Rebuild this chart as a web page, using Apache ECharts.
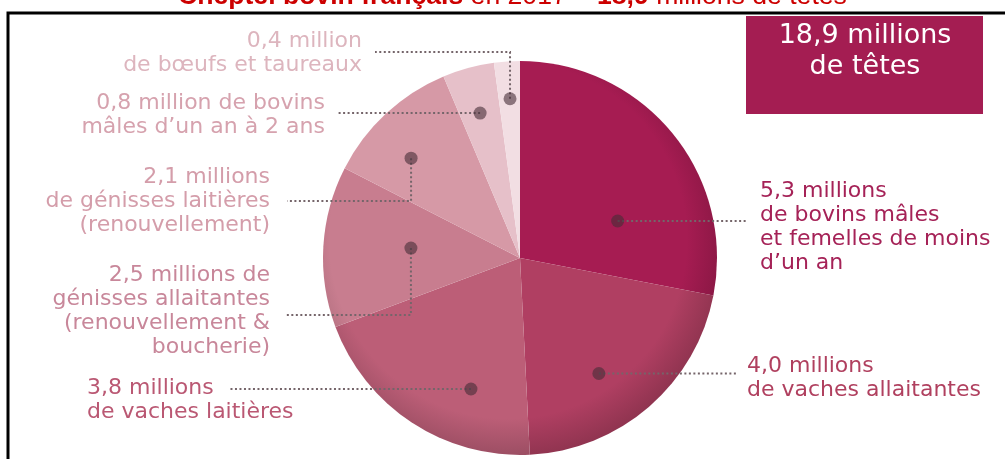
<!DOCTYPE html>
<html>
<head>
<meta charset="utf-8">
<script src="https://cdn.jsdelivr.net/npm/echarts@6/dist/echarts.min.js"></script>
<style>
  html, body { margin: 0; padding: 0; background: #fff; }
  #chart { width: 1005px; height: 459px; }
</style>
</head>
<body>
<div id="chart"></div>
<script>
// Cattle herd in France, 2017 (millions of head)
const categories = [
  'Bovins mâles et femelles de moins d’un an',
  'Vaches allaitantes',
  'Vaches laitières',
  'Génisses allaitantes',
  'Génisses laitières',
  'Bovins mâles d’un an à 2 ans',
  'Bœufs et taureaux'
];
const headsMillions = [5.3, 4.0, 3.8, 2.5, 2.1, 0.8, 0.4];
const labelLines = [
  ['5,3 millions', 'de bovins mâles', 'et femelles de moins', 'd’un an'],
  ['4,0 millions', 'de vaches allaitantes'],
  ['3,8 millions', 'de vaches laitières'],
  ['2,5 millions de', 'génisses allaitantes', '(renouvellement &', 'boucherie)'],
  ['2,1 millions', 'de génisses laitières', '(renouvellement)'],
  ['0,8 million de bovins', 'mâles d’un an à 2 ans'],
  ['0,4 million', 'de bœufs et taureaux']
];
const totalLines = ['18,9 millions', 'de têtes'];
const titleParts = ['Cheptel bovin français', ' en 2017 = ', '18,9', ' millions de têtes'];

// ---- layout & styling ----
const CX = 520, CY = 258, R = 197;
const sliceColors = ['#A61C52', '#B03F62', '#BC5E77', '#C87D8F', '#D699A6', '#E6C0C9', '#F2DEE3'];
const labelColors = ['#A52257', '#B0405F', '#BA5873', '#C8879A', '#D49DAA', '#D6A2AE', '#DDB5BE'];
// Each callout: dot placed at fraction t of the slice sweep and rf of the radius,
// optional vertical elbow, end of the dotted leader and the text anchor.
const callouts = [
  { t: 0.686, rf: 0.53,  endX: 748, textX: 760, textY: 227, align: 'left' },
  { t: 0.587, rf: 0.71,  endX: 736, textX: 747, textY: 378, align: 'left' },
  { t: 0.323, rf: 0.71,  endX: 228, textX: 87,  textY: 400, align: 'left' },
  { t: 0.539, rf: 0.556, elbowY: 315, endX: 285, textX: 270, textY: 311, align: 'right' },
  { t: 0.384, rf: 0.75,  elbowY: 201, endX: 287, textX: 270, textY: 201, align: 'right' },
  { t: 0.49,  rf: 0.763, endX: 337, textX: 325, textY: 115, align: 'right' },
  { t: 0.53,  rf: 0.81,  elbowY: 52, endX: 375, textX: 362, textY: 53, align: 'right' }
];

function shade(hex, k) {
  const n = parseInt(hex.slice(1), 16);
  const r = Math.round(((n >> 16) & 255) * k);
  const g = Math.round(((n >> 8) & 255) * k);
  const b = Math.round((n & 255) * k);
  return 'rgb(' + r + ',' + g + ',' + b + ')';
}

// Dot positions follow the slices, which run clockwise from 12 o'clock.
const total = headsMillions.reduce((a, b) => a + b, 0);
let acc = 0;
const anchors = headsMillions.map((v, i) => {
  const a0 = 90 - acc / total * 360;
  acc += v;
  const a1 = 90 - acc / total * 360;
  const c = callouts[i];
  const ang = (a0 + (a1 - a0) * c.t) * Math.PI / 180;
  return [CX + R * c.rf * Math.cos(ang), CY - R * c.rf * Math.sin(ang)];
});

// Dotted leader from each dot, with an optional vertical elbow.
const leaders = anchors.map((a, i) => {
  const c = callouts[i];
  return c.elbowY != null
    ? [a, [a[0], c.elbowY], [c.endX, c.elbowY]]
    : [a, [c.endX, a[1]]];
});

const pieData = headsMillions.map((v, i) => ({
  name: categories[i],
  value: v,
  itemStyle: {
    color: {
      type: 'radial', x: CX - 12, y: CY - 18, r: 218, global: true,
      colorStops: [
        { offset: 0, color: sliceColors[i] },
        { offset: 0.82, color: sliceColors[i] },
        { offset: 1, color: shade(sliceColors[i], 0.82) }
      ]
    }
  },
  label: { color: labelColors[i] }
}));

const chart = echarts.init(document.getElementById('chart'), null, { renderer: 'canvas' });

chart.setOption({
  animation: false,
  title: {
    text: '{b|' + titleParts[0] + '}{r|' + titleParts[1] + '}{b|' + titleParts[2] + '}{r|' + titleParts[3] + '}',
    left: 178,
    top: -17,
    padding: 0,
    textStyle: {
      fontWeight: 'normal',
      rich: {
        b: { fontFamily: 'Liberation Sans', fontSize: 26.6, fontWeight: 'bold', color: '#CC0000' },
        r: { fontFamily: 'Liberation Sans', fontSize: 26.6, fontWeight: 'normal', color: '#CC0000' }
      }
    }
  },
  graphic: [
    {
      type: 'polyline', z: 50, silent: true,
      shape: { points: [[8, 459], [8, 13], [1005, 13]] },
      style: { stroke: '#000', lineWidth: 3, fill: null }
    },
    {
      type: 'rect', z: 50, silent: true,
      shape: { x: 746, y: 16, width: 237, height: 98 },
      style: { fill: '#A41D52' }
    },
    {
      type: 'text', z: 51, silent: true,
      style: {
        text: totalLines.join('\n'), x: 865, y: 51,
        align: 'center', verticalAlign: 'middle',
        fill: '#fff', fontFamily: 'DejaVu Sans', fontSize: 27, lineHeight: 31
      }
    }
  ].concat(leaders.map(pts => ({
    type: 'polyline', z: 90, silent: true,
    shape: { points: pts },
    style: { stroke: '#75656a', lineWidth: 2, lineDash: [2, 2.5], fill: null }
  }))).concat(anchors.map(p => ({
    type: 'circle', z: 100, silent: true,
    shape: { cx: p[0], cy: p[1], r: 6.5 },
    style: { fill: 'rgba(70,45,55,0.6)' }
  }))),
  series: [{
    type: 'pie',
    center: [CX, CY],
    radius: R,
    startAngle: 90,
    clockwise: true,
    avoidLabelOverlap: false,
    silent: true,
    itemStyle: { borderWidth: 0 },
    label: {
      show: true,
      position: 'outside',
      fontFamily: 'DejaVu Sans',
      fontSize: 22,
      lineHeight: 24,
      formatter: p => labelLines[p.dataIndex].join('\n')
    },
    labelLine: { show: false },
    labelLayout: function (p) {
      const c = callouts[p.dataIndex];
      return { x: c.textX, y: c.textY, align: c.align, verticalAlign: 'middle' };
    },
    data: pieData
  }]
});
</script>
</body>
</html>
